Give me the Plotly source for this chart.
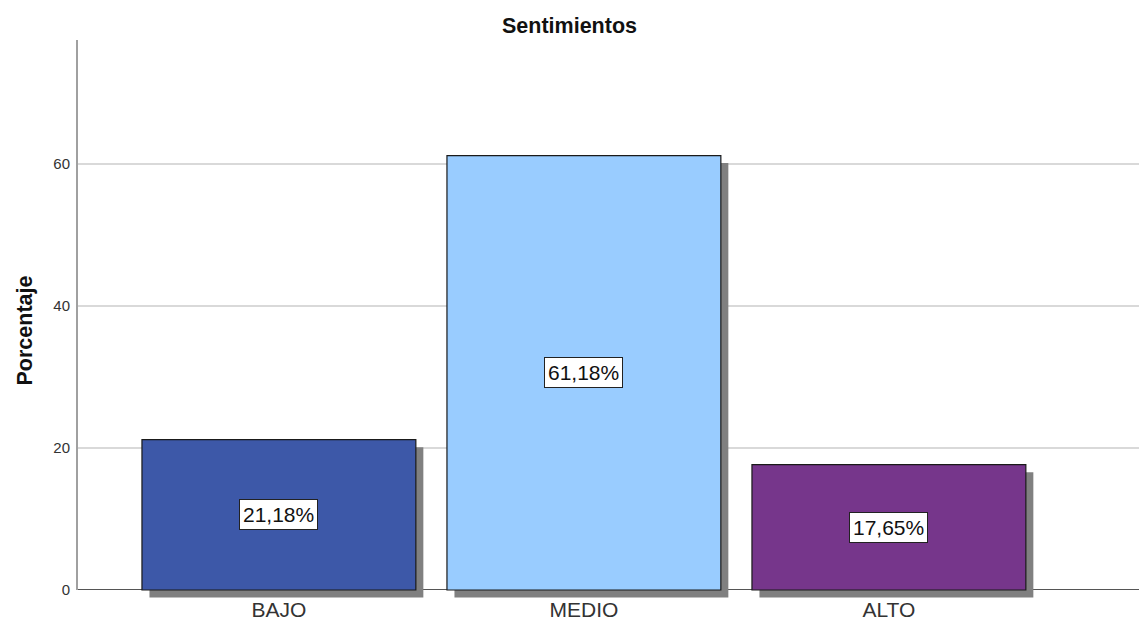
import plotly.graph_objects as go

categories = ["BAJO", "MEDIO", "ALTO"]
values = [21.18, 61.18, 17.65]
colors = ["#3D58A8", "#99CCFF", "#76368B"]
y_tickvals = [0, 20, 40, 60]
y_ticktext = ["0", "20", "40", "60"]

FONT = "Liberation Sans, Arial, sans-serif"
BAR_W = 0.898
SHADOW_DX = 0.0246
SHADOW_DY = 1.06
Y_TOP = 77.46

fig = go.Figure()

# shadow bars
fig.add_trace(go.Bar(
    x=categories, y=values, base=[-SHADOW_DY] * len(values),
    width=BAR_W, offset=-BAR_W / 2 + SHADOW_DX,
    marker=dict(color="#808080", line=dict(width=0)),
    hoverinfo="skip", showlegend=False,
))
# main bars
fig.add_trace(go.Bar(
    x=categories, y=values,
    width=BAR_W, offset=-BAR_W / 2,
    marker=dict(color=colors, line=dict(color="#1a1a1a", width=1.2)),
    showlegend=False,
))

for c, v in zip(categories, values):
    fig.add_annotation(
        x=c, y=v / 2, xref="x", yref="y",
        text=f"{v:.2f}%".replace(".", ","),
        showarrow=False,
        font=dict(family=FONT, size=21, color="#111"),
        bgcolor="white", bordercolor="#222", borderwidth=1, borderpad=3,
    )

# y axis title
fig.add_annotation(
    x=0, xref="paper", xshift=-67, y=0.5, yref="paper", yshift=-10,
    text="<b>Porcentaje</b>", textangle=-90, showarrow=False,
    font=dict(family=FONT, size=21.5, color="#111"),
)

# y axis line (from 0 to top)
fig.add_shape(type="line", xref="paper", x0=0, x1=0, yref="y", y0=0, y1=Y_TOP,
              line=dict(color="#a0a0a0", width=2), layer="above")

fig.update_layout(
    width=1139, height=623,
    margin=dict(l=77, r=0, t=40, b=22),
    paper_bgcolor="white", plot_bgcolor="white",
    barmode="overlay",
    title=dict(text="<b>Sentimientos</b>", x=0.5, xanchor="center",
               y=1 - 25 / 623, yanchor="middle",
               font=dict(family=FONT, size=21.5, color="#111")),
    xaxis=dict(
        type="category", range=[-0.662, 2.82], automargin=False,
        showgrid=False, showline=False, zeroline=False, ticks="",
        ticklabelstandoff=-6,
        tickfont=dict(family=FONT, size=21, color="#333"),
    ),
    yaxis=dict(
        range=[-1.55, Y_TOP], tickvals=y_tickvals, ticktext=y_ticktext,
        automargin=False,
        showgrid=True, gridcolor="#d9d9d9", gridwidth=2,
        zeroline=True, zerolinecolor="#555", zerolinewidth=1,
        showline=False, ticks="", ticklabelstandoff=6,
        tickfont=dict(family=FONT, size=15, color="#333"),
        layer="below traces",
    ),
    font=dict(family=FONT),
)

fig.write_html("out.html")
